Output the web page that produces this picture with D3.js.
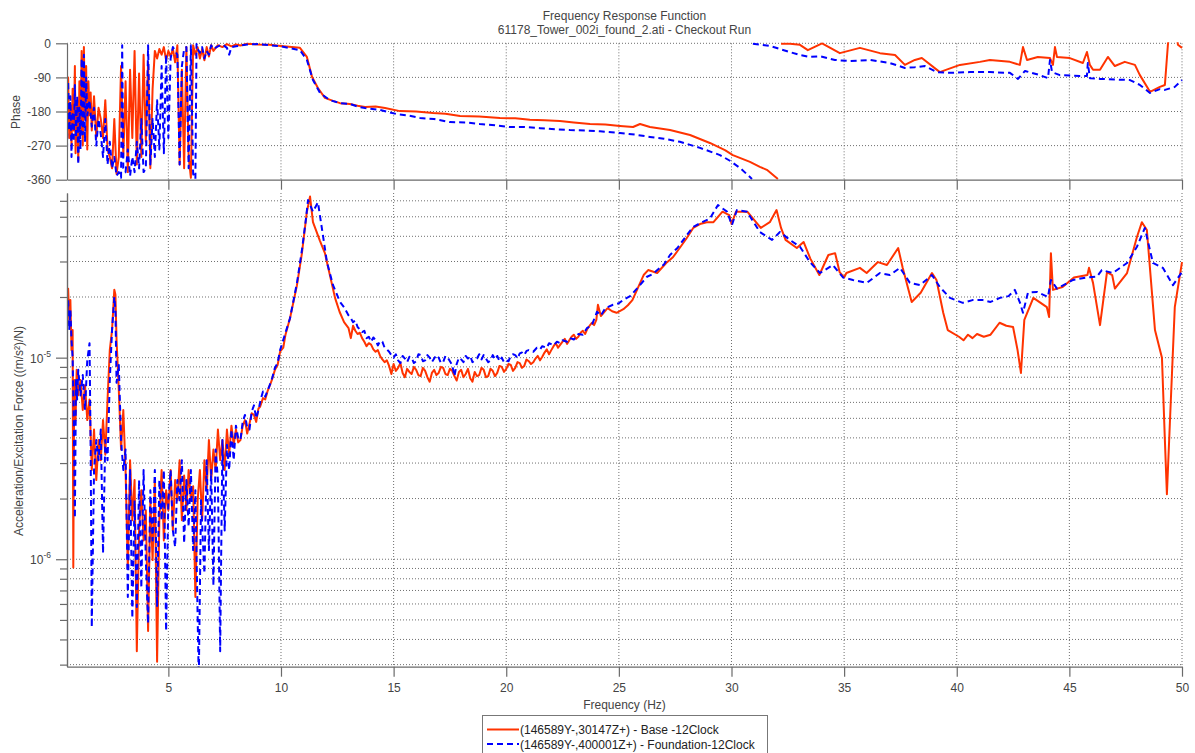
<!DOCTYPE html>
<html><head><meta charset="utf-8">
<script src="https://cdn.jsdelivr.net/npm/d3@7"></script>
<style>
body{margin:0;background:#fff;}
text{font-family:"Liberation Sans",Arial,sans-serif;}
</style></head><body>
<svg id="c" width="1195" height="753"></svg>
<script>
// ---------------- data ----------------
const titleLines = ["Frequency Response Function", "61178_Tower_002i_found_2.ati - Checkout Run"];
const xLabel = "Frequency (Hz)";
const phaseLabel = "Phase";
const magLabel = "Acceleration/Excitation Force ((m/s\u00B2)/N)";
const seriesNames = ["(146589Y-,30147Z+) - Base -12Clock", "(146589Y-,400001Z+) - Foundation-12Clock"];
const xTicks = [5,10,15,20,25,30,35,40,45,50];
const phaseTicks = [0,-90,-180,-270,-360];
const magMajorTicks = [1e-6,1e-5];
const magMajorExp = ["-6","-5"];
const magMinorTicks = [3e-7,4e-7,5e-7,6e-7,7e-7,8e-7,9e-7,2e-6,3e-6,4e-6,5e-6,6e-6,7e-6,8e-6,9e-6,2e-5,3e-5,4e-5,5e-5,6e-5];

// Base (red) magnitude [Hz, (m/s^2)/N]
const baseMag = [
[0.50,1.93e-5],[0.55,2.2e-5],[0.60,1.54e-5],[0.65,1.93e-5],[0.70,1.09e-5],[0.75,1.37e-5],[0.78,9.1e-7],[0.82,7.75e-6],[0.88,4.9e-6],[0.93,8.7e-6],
[1.0,6.5e-6],[1.1,7.75e-6],[1.2,5.5e-6],[1.3,7.3e-6],[1.4,4.9e-6],[1.5,6.2e-6],[1.6,2.77e-6],[1.7,4.4e-6],[1.8,2.47e-6],[1.9,3.9e-6],
[2.0,3.1e-6],[2.1,4.9e-6],[2.2,3.3e-6],[2.3,6.2e-6],[2.4,1.09e-5],[2.5,1.37e-5],[2.6,2.17e-5],[2.65,2.05e-5],[2.7,1.22e-5],[2.8,6.9e-6],[2.9,3.5e-6],
[3.0,5.5e-6],[3.1,2.77e-6],[3.2,9.0e-7],[3.3,3.1e-6],[3.4,1.56e-6],[3.5,2.47e-6],[3.6,3.5e-7],[3.7,1.39e-6],[3.8,2.2e-6],[3.9,1.24e-6],
[4.0,1.75e-6],[4.1,4.4e-7],[4.2,1.96e-6],[4.3,9.9e-7],[4.4,2.47e-6],[4.5,3.1e-7],[4.6,1.56e-6],[4.7,2.77e-6],[4.8,1.24e-6],[4.9,2.2e-6],
[5.0,1.75e-6],[5.1,2.77e-6],[5.2,1.39e-6],[5.3,2.47e-6],[5.4,1.96e-6],[5.5,3.1e-6],[5.6,1.56e-6],[5.7,2.6e-6],[5.8,1.75e-6],[5.9,2.77e-6],
[6.0,1.96e-6],[6.1,2.3e-6],[6.2,6.5e-7],[6.3,1.96e-6],[6.4,2.77e-6],[6.5,1.56e-6],[6.6,3.1e-6],[6.7,2.2e-6],[6.8,3.9e-6],[6.9,2.47e-6],
[7.0,3.5e-6],[7.1,2.77e-6],[7.2,4.4e-6],[7.3,3.1e-6],[7.4,3.9e-6],[7.5,2.77e-6],[7.6,4.4e-6],[7.7,3.3e-6],[7.8,4.6e-6],[7.9,3.7e-6],
[8.0,4.4e-6],[8.1,3.8e-6],[8.2,3.9e-6],[8.3,4.6e-6],[8.4,4.9e-6],[8.5,4.2e-6],[8.6,4.7e-6],[8.7,5.3e-6],[8.8,5.2e-6],[8.9,4.8e-6],
[9.0,5.6e-6],[9.07,5.7e-6],[9.2,6.3e-6],[9.3,6.2e-6],[9.4,6.8e-6],[9.51,7.3e-6],[9.62,7.9e-6],[9.73,8.7e-6],[9.85,9.2e-6],[9.96,1.07e-5],
[10.1,1.12e-5],[10.2,1.3e-5],[10.4,1.57e-5],[10.71,2.29e-5],[10.93,3.3e-5],[11.15,5.3e-5],[11.29,6.3e-5],[11.42,4.7e-5],[11.73,3.8e-5],[11.95,3.3e-5],[12.17,2.57e-5],[12.4,1.98e-5],
[12.6,1.69e-5],[12.8,1.5e-5],[13.0,1.4e-5],[13.1,1.25e-5],[13.2,1.44e-5],[13.3,1.36e-5],[13.4,1.31e-5],[13.5,1.33e-5],[13.6,1.25e-5],[13.7,1.2e-5],
[13.8,1.14e-5],[13.9,1.18e-5],[14.0,1.16e-5],[14.1,1.1e-5],[14.2,1.07e-5],[14.3,1.09e-5],[14.4,1.02e-5],[14.5,9.8e-6],[14.6,9.5e-6],[14.7,9.7e-6],
[14.8,9.1e-6],[14.9,8.3e-6],[15.0,9.3e-6],[15.1,8.6e-6],[15.2,8.9e-6],[15.3,9.4e-6],[15.4,8.4e-6],[15.5,8.0e-6],[15.6,8.8e-6],[15.7,8.5e-6],
[15.8,8.3e-6],[15.9,9.0e-6],[16.0,8.7e-6],[16.1,8.2e-6],[16.2,8.1e-6],[16.3,8.9e-6],[16.4,8.6e-6],[16.5,8.0e-6],[16.6,7.6e-6],[16.7,8.4e-6],
[16.8,8.7e-6],[16.9,8.2e-6],[17.0,8.4e-6],[17.1,9.0e-6],[17.2,8.9e-6],[17.3,8.3e-6],[17.4,8.2e-6],[17.5,8.8e-6],[17.6,8.6e-6],[17.7,8.1e-6],
[17.8,7.7e-6],[17.9,8.5e-6],[18.0,8.7e-6],[18.1,8.0e-6],[18.2,8.3e-6],[18.3,8.8e-6],[18.4,7.9e-6],[18.5,7.6e-6],[18.6,8.5e-6],[18.7,8.1e-6],
[18.8,8.2e-6],[18.9,8.9e-6],[19.0,8.7e-6],[19.1,8.0e-6],[19.2,8.1e-6],[19.3,8.8e-6],[19.4,8.6e-6],[19.5,8.1e-6],[19.6,8.4e-6],[19.7,9.1e-6],
[19.8,9.0e-6],[19.9,8.5e-6],[20.0,8.8e-6],[20.1,9.3e-6],[20.2,9.2e-6],[20.3,8.6e-6],[20.4,8.9e-6],[20.5,9.5e-6],[20.6,9.4e-6],[20.7,8.9e-6],
[20.8,9.1e-6],[20.9,9.8e-6],[21.0,9.6e-6],[21.1,9.3e-6],[21.2,9.5e-6],[21.3,9.9e-6],[21.4,1.02e-5],[21.5,9.7e-6],[21.6,1.01e-5],[21.7,1.06e-5],
[21.8,1.1e-5],[21.9,1.04e-5],[22.0,1.09e-5],[22.1,1.14e-5],[22.2,1.18e-5],[22.3,1.12e-5],[22.4,1.16e-5],[22.5,1.2e-5],[22.6,1.24e-5],[22.7,1.17e-5],
[22.8,1.22e-5],[22.9,1.27e-5],[23.0,1.3e-5],[23.1,1.24e-5],[23.2,1.27e-5],[23.3,1.33e-5],[23.4,1.36e-5],[23.5,1.31e-5],[23.6,1.39e-5],[23.7,1.44e-5],
[23.8,1.49e-5],[23.9,1.45e-5],[24.0,1.54e-5],[24.07,1.83e-5],[24.2,1.61e-5],[24.5,1.76e-5],[24.7,1.7e-5],[24.9,1.67e-5],[25.2,1.74e-5],[25.4,1.82e-5],
[25.6,1.93e-5],[25.9,2.29e-5],[26.1,2.57e-5],[26.3,2.72e-5],[26.7,2.63e-5],[27.1,2.95e-5],[27.4,3.15e-5],[27.7,3.5e-5],[28.0,3.9e-5],[28.3,4.4e-5],
[28.6,4.6e-5],[28.9,4.7e-5],[29.2,4.7e-5],[29.6,5.3e-5],[29.9,5.1e-5],[30.0,4.6e-5],[30.2,5.3e-5],[30.7,5.3e-5],
[31.3,4.4e-5],[31.7,4.7e-5],[32.0,5.4e-5],[32.2,4.4e-5],[32.4,3.84e-5],[32.9,3.5e-5],[33.2,3.75e-5],[33.5,3.1e-5],[33.9,2.57e-5],[34.3,3.23e-5],
[34.6,3.3e-5],[34.8,2.66e-5],[35.0,2.5e-5],[35.1,2.63e-5],[35.7,2.79e-5],[36.0,2.63e-5],[36.5,2.98e-5],[36.9,2.88e-5],[37.4,3.5e-5],[37.6,2.79e-5],
[38.0,1.89e-5],[38.4,2.1e-5],[38.9,2.63e-5],[39.1,2.43e-5],[39.4,1.67e-5],[39.6,1.37e-5],[40.1,1.27e-5],[40.3,1.22e-5],[40.5,1.3e-5],[40.7,1.25e-5],
[40.9,1.31e-5],[41.2,1.27e-5],[41.5,1.3e-5],[41.9,1.49e-5],[42.2,1.44e-5],[42.5,1.42e-5],[42.7,1.09e-5],[42.85,8.4e-6],[43.0,1.54e-5],[43.4,1.98e-5],
[44.0,1.78e-5],[44.1,1.59e-5],[44.18,3.3e-5],[44.27,2.17e-5],[44.7,2.24e-5],[45.2,2.5e-5],[45.8,2.57e-5],[45.87,2.79e-5],[46.05,2.35e-5],[46.36,1.45e-5],
[46.67,2.66e-5],[46.9,2.57e-5],[47.02,2.2e-5],[47.56,2.63e-5],[48.0,3.97e-5],[48.22,4.7e-5],[48.44,4.3e-5],[48.8,1.37e-5],[49.11,1.0e-5],[49.24,3.9e-6],
[49.33,2.1e-6],[49.46,4.7e-6],[49.68,1.78e-5],[50.0,2.98e-5]
];

// Foundation (blue) magnitude [Hz, (m/s^2)/N]
const foundMag = [
[0.50,1.54e-5],[0.55,1.93e-5],[0.60,1.37e-5],[0.65,1.72e-5],[0.70,1.22e-5],[0.75,1.0e-5],[0.80,4.9e-6],[0.85,1.6e-6],[0.90,7.75e-6],[0.95,6.2e-6],
[1.0,8.7e-6],[1.1,6.5e-6],[1.2,8.2e-6],[1.3,5.5e-6],[1.4,9.7e-6],[1.5,1.18e-5],[1.55,3.5e-6],[1.6,4.6e-7],[1.7,2.77e-6],[1.8,3.9e-6],[1.9,3.1e-6],
[2.0,4.4e-6],[2.1,1.07e-6],[2.2,3.9e-6],[2.3,3.1e-6],[2.4,7.75e-6],[2.5,1.37e-5],[2.6,2.0e-5],[2.65,1.72e-5],[2.7,7.5e-6],[2.8,9.2e-6],[2.9,3.9e-6],
[3.0,2.77e-6],[3.1,3.5e-6],[3.2,6.5e-7],[3.3,2.77e-6],[3.4,5.1e-7],[3.5,1.96e-6],[3.6,5.8e-7],[3.7,2.47e-6],[3.8,7.2e-7],[3.9,2.77e-6],
[4.0,9.9e-7],[4.1,4.8e-7],[4.2,2.2e-6],[4.3,1.24e-6],[4.4,2.77e-6],[4.5,5.8e-7],[4.6,2.47e-6],[4.7,1.56e-6],[4.8,2.77e-6],[4.9,4.4e-7],
[5.0,1.96e-6],[5.1,2.77e-6],[5.2,1.39e-6],[5.3,1.15e-6],[5.4,2.47e-6],[5.5,1.96e-6],[5.6,3.1e-6],[5.7,1.2e-6],[5.8,2.47e-6],[5.9,1.45e-6],
[6.0,2.77e-6],[6.1,1.11e-6],[6.2,2.2e-6],[6.35,2.5e-7],[6.45,1.96e-6],[6.6,8.5e-7],[6.7,3.1e-6],[6.8,1.11e-6],[6.9,2.77e-6],
[7.0,7.4e-7],[7.1,3.5e-6],[7.2,2.47e-6],[7.3,3.5e-7],[7.4,3.9e-6],[7.5,1.39e-6],[7.6,3.7e-6],[7.7,2.77e-6],[7.8,4.4e-6],[7.9,3.1e-6],
[8.0,4.6e-6],[8.1,4.0e-6],[8.2,3.9e-6],[8.3,4.8e-6],[8.4,5.2e-6],[8.5,4.5e-6],[8.6,4.4e-6],[8.7,5.4e-6],[8.8,5.8e-6],[8.9,5.0e-6],
[9.0,5.5e-6],[9.1,6.2e-6],[9.2,6.8e-6],[9.3,6.4e-6],[9.5,7.3e-6],[9.62,8.0e-6],[9.73,8.9e-6],[9.85,9.4e-6],[9.96,1.09e-5],
[10.2,1.33e-5],[10.4,1.57e-5],[10.71,2.35e-5],[10.93,3.42e-5],[11.1,4.8e-5],[11.2,6.05e-5],[11.42,5.3e-5],[11.64,5.9e-5],[11.86,4.06e-5],[12.04,2.98e-5],
[12.31,2.29e-5],[12.62,1.89e-5],[12.8,1.78e-5],[13.0,1.62e-5],[13.1,1.57e-5],[13.2,1.5e-5],[13.3,1.53e-5],[13.4,1.42e-5],[13.5,1.38e-5],[13.6,1.34e-5],
[13.7,1.36e-5],[13.8,1.25e-5],[13.9,1.27e-5],[14.0,1.2e-5],[14.1,1.26e-5],[14.2,1.22e-5],[14.3,1.15e-5],[14.4,1.21e-5],[14.5,1.2e-5],[14.6,1.12e-5],
[14.7,1.1e-5],[14.8,1.07e-5],[14.9,1.03e-5],[15.0,1.0e-5],[15.1,1.04e-5],[15.2,9.7e-6],[15.3,9.4e-6],[15.4,1.02e-5],[15.5,9.9e-6],[15.6,9.5e-6],
[15.7,1.01e-5],[15.8,1.0e-5],[15.9,9.4e-6],[16.0,9.6e-6],[16.1,1.04e-5],[16.2,1.03e-5],[16.3,9.6e-6],[16.4,9.7e-6],[16.5,1.03e-5],[16.6,1.0e-5],
[16.7,9.5e-6],[16.8,9.9e-6],[16.9,1.03e-5],[17.0,1.0e-5],[17.1,9.4e-6],[17.2,9.5e-6],[17.3,1.02e-5],[17.4,1.0e-5],[17.5,9.6e-6],[17.6,9.2e-6],
[17.7,8.1e-6],[17.8,9.3e-6],[17.9,1.0e-5],[18.0,9.8e-6],[18.1,9.5e-6],[18.2,1.02e-5],[18.3,9.9e-6],[18.4,1.02e-5],[18.5,9.5e-6],[18.6,9.7e-6],
[18.7,9.9e-6],[18.8,1.04e-5],[18.9,9.8e-6],[19.0,1.03e-5],[19.1,9.9e-6],[19.2,9.5e-6],[19.3,9.7e-6],[19.4,1.03e-5],[19.5,9.8e-6],[19.6,1.02e-5],
[19.7,9.6e-6],[19.8,1.0e-5],[19.9,9.5e-6],[20.0,9.7e-6],[20.1,9.6e-6],[20.2,1.02e-5],[20.3,1.04e-5],[20.4,1.03e-5],[20.5,9.9e-6],[20.6,1.05e-5],
[20.7,1.06e-5],[20.8,1.03e-5],[20.9,1.08e-5],[21.0,1.09e-5],[21.2,1.07e-5],[21.36,1.12e-5],[21.5,1.1e-5],[21.6,1.14e-5],[21.8,1.12e-5],[21.9,1.18e-5],
[22.1,1.15e-5],[22.25,1.2e-5],[22.4,1.18e-5],[22.5,1.22e-5],[22.7,1.2e-5],[22.83,1.25e-5],[23.0,1.23e-5],[23.2,1.31e-5],[23.4,1.3e-5],[23.58,1.4e-5],
[23.8,1.45e-5],[24.03,1.69e-5],[24.2,1.62e-5],[24.4,1.76e-5],[24.74,1.83e-5],[25.0,1.86e-5],[25.18,1.93e-5],[25.5,2.02e-5],[25.8,2.2e-5],
[26.25,2.52e-5],[26.5,2.6e-5],[26.82,2.79e-5],[27.0,2.9e-5],[27.27,3.23e-5],[27.6,3.5e-5],[28.02,4.06e-5],[28.29,4.45e-5],[28.7,4.7e-5],[29.04,4.9e-5],[29.4,5.72e-5],[29.8,5.3e-5],
[30.02,4.55e-5],[30.24,5.4e-5],[30.69,5.3e-5],[31.26,4.2e-5],[31.8,3.84e-5],[32.15,4.2e-5],[32.59,3.84e-5],[33.04,3.55e-5],[33.48,2.98e-5],[33.93,2.63e-5],
[34.5,2.88e-5],[34.95,2.5e-5],[35.39,2.43e-5],[36.01,2.35e-5],[36.59,2.63e-5],[37.03,2.57e-5],[37.48,2.79e-5],[37.92,2.35e-5],[38.37,2.29e-5],[38.9,2.57e-5],
[39.25,2.24e-5],[39.7,1.98e-5],[40.27,1.87e-5],[40.7,1.93e-5],[41.16,1.93e-5],[41.5,1.89e-5],[41.92,1.98e-5],[42.3,2.02e-5],[42.58,2.17e-5],[42.81,1.87e-5],
[42.94,1.67e-5],[43.16,2.1e-5],[43.56,2.12e-5],[44.05,2.0e-5],[44.18,2.43e-5],[44.45,2.2e-5],[45.16,2.43e-5],[45.78,2.5e-5],[46.22,2.52e-5],[46.44,2.72e-5],
[46.93,2.63e-5],[47.56,2.95e-5],[48.0,3.55e-5],[48.35,4.4e-5],[48.71,2.95e-5],[49.15,2.79e-5],[49.6,2.29e-5],[50.0,2.66e-5]
];

// Base (red) phase [Hz, deg]; null = wrap break
const basePhase = [
[0.50,-200],[0.55,-90],[0.60,-250],[0.65,-160],[0.70,-270],[0.75,-120],[0.80,-230],[0.85,-60],[0.88,-290],[0.95,-150],
[1.00,-310],[1.05,-100],[1.10,-240],[1.15,-20],[1.20,-270],[1.25,-10],[1.30,-200],[1.35,-60],[1.40,-280],[1.45,-100],
[1.50,-190],[1.55,-130],[1.60,-230],[1.70,-140],[1.80,-250],[1.90,-170],[2.00,-200],[2.10,-250],[2.20,-150],[2.30,-280],
[2.40,-300],[2.50,-330],[2.60,-200],[2.70,-345],[2.80,-300],[2.90,-60],[3.00,-300],[3.10,-100],[3.20,-340],[3.30,-70],
[3.40,-250],[3.50,-20],[3.60,-320],[3.70,-80],[3.80,-300],[3.90,-30],[4.00,-260],[4.10,-50],[4.20,-330],[4.30,-120],
[4.40,-20],[4.50,-40],[4.60,-15],[4.70,-30],[4.80,-10],[4.90,-45],[5.00,-20],[5.10,-35],[5.20,-15],[5.30,-50],
[5.40,-5],[5.50,-320],[5.60,-70],[5.70,-330],[5.80,-10],[5.90,-300],[6.00,-355],[6.10,-5],[6.20,-30],[6.30,-10],
[6.40,-40],[6.50,-15],[6.60,-45],[6.70,-10],[6.80,-35],[6.90,-5],[7.00,-20],[7.20,-5],[7.40,-10],[7.60,-2],
[7.80,-8],[8.00,-3],[8.20,-6],[8.50,-1],[9.00,-3],[9.50,-4],[10.00,-7],[10.84,-12],[11.15,-36],[11.38,-89],
[11.64,-118],[11.95,-144],[12.31,-152],[12.62,-158],[13.06,-160],[13.4,-165],[13.73,-168],[14.2,-167],[14.62,-171],[15.28,-179],
[16.0,-180],[16.75,-184],[17.3,-186],[17.95,-192],[18.8,-193],[19.72,-197],[20.4,-198],[21.05,-202],[21.7,-203],[22.38,-205],
[23.0,-209],[23.72,-213],[24.4,-214],[25.05,-218],[25.63,-221],[25.94,-213],[26.38,-221],[27.27,-229],[28.16,-242],[29.04,-263],
[29.71,-282],[30.06,-295],[30.82,-313],[31.26,-326],[31.57,-334],[32.06,-358],[32.1,null],[32.2,-1],[32.6,-1],[33.04,-4],
[33.39,-18],[34.02,0],[34.81,-26],[35.70,-12],[36.59,-26],[37.26,-31],[37.70,-57],[38.14,-44],[38.45,-39],[39.25,-76],
[39.52,-70],[40.14,-57],[41.03,-49],[41.47,-44],[42.36,-49],[42.80,-57],[42.94,-10],[43.12,-44],[43.60,-36],[44.14,-39],
[44.27,-57],[44.36,-10],[44.45,-36],[45.02,-39],[45.60,-52],[45.78,-23],[45.91,-57],[46.05,-70],[46.36,-70],[46.71,-36],
[47.02,-60],[47.46,-49],[47.91,-57],[48.13,-84],[48.58,-128],[49.02,-115],[49.24,-110],[49.37,-7],[49.40,10],[49.45,null],
[49.8,5],[49.82,-4],[50.0,-12]
];

// Foundation (blue) phase [Hz, deg]
const foundPhase = [
[0.50,-280],[0.55,-100],[0.60,-230],[0.65,-140],[0.70,-300],[0.75,-180],[0.80,-260],[0.85,-110],[0.90,-250],[0.95,-140],
[1.00,-320],[1.05,-170],[1.10,-280],[1.15,-40],[1.20,-240],[1.25,-30],[1.30,-260],[1.35,-90],[1.40,-190],[1.50,-150],
[1.60,-220],[1.70,-170],[1.80,-270],[1.90,-200],[2.00,-240],[2.10,-300],[2.20,-200],[2.30,-320],[2.40,-260],[2.50,-330],
[2.60,-300],[2.70,-350],[2.80,-340],[2.90,-355],[2.95,-5],[3.00,-330],[3.10,-340],[3.20,-280],[3.30,-350],[3.40,-300],
[3.50,-340],[3.60,-260],[3.70,-330],[3.80,-200],[3.90,-340],[4.00,-330],[4.10,-5],[4.20,-320],[4.30,-200],[4.40,-300],
[4.50,-150],[4.60,-280],[4.70,-60],[4.80,-290],[4.90,-30],[5.00,-250],[5.10,-40],[5.20,-10],[5.30,-20],[5.40,-30],
[5.50,-320],[5.60,-60],[5.70,-15],[5.80,-10],[5.90,-330],[6.00,-5],[6.10,-345],[6.20,-358],[6.25,-2],[6.30,-15],
[6.40,-25],[6.50,-10],[6.60,-40],[6.70,-20],[6.80,-30],[6.90,-5],[7.00,-15],[7.20,-8],[7.40,-3],[7.60,-12],
[7.70,-30],[7.80,-10],[8.00,-8],[8.50,-3],[9.00,-2],[9.50,-5],[10.00,-8],[10.84,-18],[11.15,-44],[11.42,-97],
[11.73,-131],[12.17,-150],[12.62,-158],[13.06,-160],[13.4,-167],[13.73,-171],[14.39,-176],[15.15,-187],[15.6,-190],[16.17,-197],
[16.8,-200],[17.50,-208],[18.2,-209],[18.83,-213],[19.5,-216],[20.17,-221],[20.8,-221],[21.50,-224],[22.2,-227],[22.83,-229],
[23.5,-230],[24.16,-232],[25.05,-237],[25.7,-241],[26.38,-247],[27.0,-252],[27.71,-260],[28.60,-276],[29.49,-295],[29.93,-310],
[30.38,-329],[30.91,-358],[30.93,null],[30.95,-1],[31.71,-7],[32.59,-23],[33.04,-31],[33.48,-36],[33.93,-34],[34.59,-44],
[35.26,-47],[36.15,-44],[37.03,-52],[37.70,-65],[38.14,-63],[38.59,-60],[39.12,-76],[39.70,-78],[40.58,-76],[41.47,-76],
[42.36,-78],[42.72,-94],[43.03,-73],[43.69,-84],[44.05,-92],[44.14,-44],[44.23,-76],[44.58,-84],[45.47,-86],[45.78,-86],
[45.82,-52],[45.91,-92],[46.36,-94],[47.69,-97],[48.13,-110],[48.58,-131],[49.02,-121],[49.24,-123],[49.68,-115],[50.0,-97]
];

// ---------------- drawing ----------------
const svg = d3.select("#c");
const L = 67, R = 1182;
const pTop = 43.3, pBot = 179.7, mTop = 193, mBot = 666.7;
const gridColor = "#6f6f6f", axisColor = "#6a6a6a", textColor = "#444";
const redColor = "#ff3300", blueColor = "#0000ff";

const x = d3.scaleLinear().domain([0.5, 50]).range([L, R]);
const yP = d3.scaleLinear().domain([-360, 0]).range([pBot, pTop]);
const yM = d3.scaleLog().domain([2.93e-7, 6.56e-5]).range([mBot, mTop]);

svg.append("rect").attr("width", 1195).attr("height", 753).attr("fill", "#fff");

const defs = svg.append("defs");
defs.append("clipPath").attr("id", "clipP").append("rect")
  .attr("x", L).attr("y", pTop - 1).attr("width", R - L + 1).attr("height", pBot - pTop + 2);
defs.append("clipPath").attr("id", "clipM").append("rect")
  .attr("x", L).attr("y", mTop).attr("width", R - L + 1).attr("height", mBot - mTop);

// titles
svg.selectAll("text.title").data(titleLines).join("text")
  .attr("class", "title").attr("x", (L + R) / 2).attr("y", (d, i) => 20 + i * 14)
  .attr("text-anchor", "middle").attr("font-size", 12).attr("fill", textColor).text(d => d);

// grids
function dotted(g) {
  g.attr("stroke", gridColor).attr("stroke-width", 1).attr("stroke-dasharray", "1,2").attr("fill", "none");
}
const grid = svg.append("g");
grid.append("g").call(dotted).selectAll("line").data(phaseTicks.filter(d => d > -360)).join("line")
  .attr("x1", L).attr("x2", R).attr("y1", d => yP(d)).attr("y2", d => yP(d));
grid.append("g").call(dotted).selectAll("line").data(xTicks).join("line")
  .attr("x1", d => x(d)).attr("x2", d => x(d)).attr("y1", pTop).attr("y2", pBot);
grid.append("g").call(dotted).selectAll("line").data(magMajorTicks.concat(magMinorTicks)).join("line")
  .attr("x1", L).attr("x2", R).attr("y1", d => yM(d)).attr("y2", d => yM(d));
grid.append("g").call(dotted).selectAll("line").data(xTicks).join("line")
  .attr("x1", d => x(d)).attr("x2", d => x(d)).attr("y1", mTop).attr("y2", mBot);

// lines
const lineP = d3.line().defined(d => d[1] !== null).x(d => x(d[0])).y(d => yP(d[1]));
const lineM = d3.line().defined(d => d[1] !== null).x(d => x(d[0])).y(d => yM(d[1]));

const gP = svg.append("g").attr("clip-path", "url(#clipP)");
const gM = svg.append("g").attr("clip-path", "url(#clipM)");
function styleRed(s) { s.attr("fill", "none").attr("stroke", redColor).attr("stroke-width", 2).attr("stroke-linejoin", "round"); }
function styleBlue(s) { s.attr("fill", "none").attr("stroke", blueColor).attr("stroke-width", 2).attr("stroke-dasharray", "6,4").attr("stroke-linejoin", "round"); }

gP.append("path").datum(basePhase).attr("d", lineP).call(styleRed);
gP.append("path").datum(foundPhase).attr("d", lineP).call(styleBlue);
gM.append("path").datum(baseMag).attr("d", lineM).call(styleRed);
gM.append("path").datum(foundMag).attr("d", lineM).call(styleBlue);

// axes
function styleAxis(g) {
  g.select(".domain").attr("stroke", axisColor).attr("stroke-width", 1.2);
  g.selectAll(".tick line").attr("stroke", axisColor).attr("stroke-width", 1.2);
  g.selectAll(".tick text").attr("fill", textColor).attr("font-size", 12)
    .attr("font-family", '"Liberation Sans",Arial,sans-serif');
}
svg.append("g").attr("transform", `translate(${L},0)`)
  .call(d3.axisLeft(yP).tickValues(phaseTicks).tickSize(11).tickSizeOuter(0).tickPadding(5).tickFormat(d => String(d)))
  .call(styleAxis);
svg.append("g").attr("transform", `translate(0,${pBot})`)
  .call(d3.axisBottom(x).tickValues(xTicks).tickSize(10).tickSizeOuter(0).tickFormat(""))
  .call(styleAxis);
svg.append("g").attr("transform", `translate(${L},0)`)
  .call(d3.axisLeft(yM).tickValues(magMinorTicks).tickSize(7).tickSizeOuter(0).tickFormat(""))
  .call(styleAxis);
svg.append("g").attr("transform", `translate(${L},0)`)
  .call(d3.axisLeft(yM).tickValues(magMajorTicks).tickSize(11).tickSizeOuter(0).tickFormat(""))
  .call(styleAxis);
const majLab = svg.append("g").selectAll("text").data(magMajorTicks).join("text")
  .attr("x", 51).attr("y", d => yM(d) + 5).attr("text-anchor", "end")
  .attr("font-size", 12).attr("fill", textColor);
majLab.append("tspan").text("10");
majLab.append("tspan").attr("dy", -6).attr("font-size", 8.5).text((d, i) => magMajorExp[i]);
svg.append("g").attr("transform", `translate(0,${mBot})`)
  .call(d3.axisBottom(x).tickValues(xTicks).tickSize(10).tickSizeOuter(0).tickPadding(7).tickFormat(d => String(d)))
  .call(styleAxis);

// axis labels
svg.append("text").attr("transform", "translate(20,112) rotate(-90)").attr("text-anchor", "middle")
  .attr("font-size", 12).attr("fill", textColor).text(phaseLabel);
svg.append("text").attr("transform", "translate(23,431) rotate(-90)").attr("text-anchor", "middle")
  .attr("font-size", 12).attr("fill", textColor).text(magLabel);
svg.append("text").attr("x", (L + R) / 2).attr("y", 709).attr("text-anchor", "middle")
  .attr("font-size", 12).attr("fill", textColor).text(xLabel);

// legend
const lg = svg.append("g");
lg.append("rect").attr("x", 482.5).attr("y", 715.5).attr("width", 285).attr("height", 50)
  .attr("fill", "#fff").attr("stroke", "#777").attr("stroke-width", 1);
const entries = lg.selectAll("g").data(seriesNames).join("g")
  .attr("transform", (d, i) => `translate(0,${729.5 + i * 14.5})`);
entries.append("line").attr("x1", 487).attr("x2", 519).attr("y1", 0).attr("y2", 0)
  .each(function (d, i) { d3.select(this).call(i === 0 ? styleRed : styleBlue); });
entries.append("text").attr("x", 520).attr("y", 4.5).attr("font-size", 12).attr("fill", "#222").text(d => d);
</script>
</body></html>
